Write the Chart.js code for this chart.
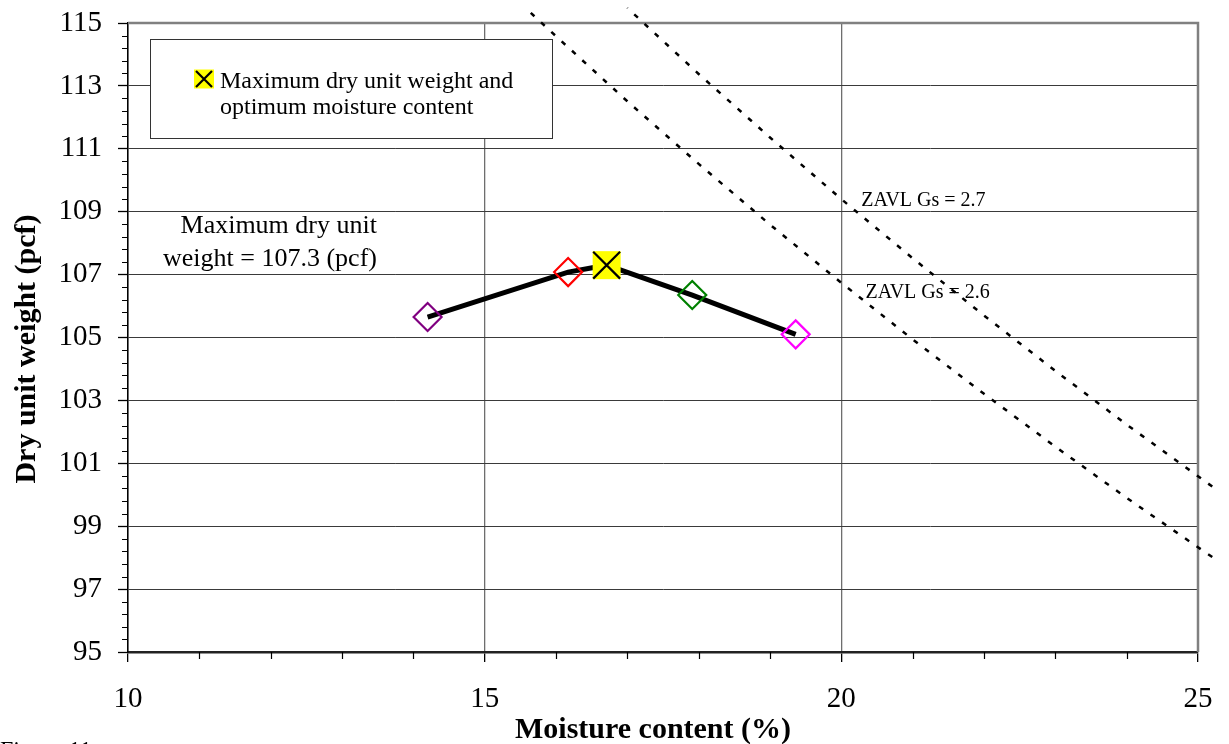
<!DOCTYPE html>
<html lang="en">
<head>
  <meta charset="UTF-8" />
  <title>Compaction Curve</title>
  <script src="https://cdn.jsdelivr.net/npm/chart.js"></script>
  <style>
    body { margin: 0; background: #fff; }
    .chart-container { width: 1229px; height: 744px; position: relative; }
  </style>
</head>
<body>
  <div class="chart-container">
    <canvas id="proctorChart"></canvas>
  </div>

  <script>
    // trial points: moisture content (%) and dry unit weight (pcf)
    const trialMoisture = [14.2, 16.17, 17.91, 19.36];
    const trialDryWeight = [105.65, 107.08, 106.35, 105.1];
    const trialColors = ['#800080', '#ff0000', '#008000', '#ff00ff'];

    // peak of the curve
    const maxMoisture = 16.71;
    const maxDryWeight = 107.3;

    // compaction curve (trials + peak)
    const curveMoisture = [14.2, 16.17, 16.71, 17.91, 19.36];
    const curveDryWeight = [105.65, 107.08, 107.3, 106.35, 105.1];

    // zero air voids lines
    const zav26Moisture = [15.6, 16, 17, 18, 19, 20, 21, 22, 23, 24, 25, 25.2];
    const zav26Weight = [115.42, 114.58, 112.51, 110.52, 108.59, 106.74, 104.94, 103.21, 101.53, 99.9, 98.33, 98.02];
    const zav27Moisture = [17, 18, 19, 20, 21, 22, 23, 24, 25, 25.2];
    const zav27Weight = [115.48, 113.38, 111.36, 109.4, 107.52, 105.7, 103.94, 102.23, 100.59, 100.26];

    // tick labels
    const xTicks = [10, 15, 20, 25];
    const yTicks = [95, 97, 99, 101, 103, 105, 107, 109, 111, 113, 115];
    const xMinorStep = 1;
    const yMinorStep = 0.4;

    const SERIF = "'Liberation Serif', 'Times New Roman', serif";

    const toPoints = (xs, ys) => xs.map((v, i) => ({ x: v, y: ys[i] }));

    const decorations = {
      id: 'decorations',
      beforeDatasetsDraw(chart) {
        const { ctx, chartArea: a } = chart;
        ctx.save();
        // grey frame on top and right
        ctx.strokeStyle = '#808080';
        ctx.lineWidth = 2.5;
        ctx.beginPath();
        ctx.moveTo(a.left, a.top);
        ctx.lineTo(a.right, a.top);
        ctx.lineTo(a.right, a.bottom);
        ctx.stroke();
        ctx.restore();
      },
      afterDraw(chart) {
        const { ctx, chartArea: a, scales: { x, y } } = chart;
        ctx.save();

        // minor ticks
        ctx.strokeStyle = '#000';
        ctx.lineWidth = 1.2;
        ctx.beginPath();
        const yMin = yTicks[0], yMax = yTicks[yTicks.length - 1];
        for (let i = 0; yMin + i * yMinorStep <= yMax + 1e-6; i++) {
          const v = yMin + i * yMinorStep;
          if (yTicks.some(t => Math.abs(t - v) < 1e-6)) continue;
          const py = Math.round(y.getPixelForValue(v)) + 0.5;
          ctx.moveTo(a.left - 6, py);
          ctx.lineTo(a.left, py);
        }
        const xMin = xTicks[0], xMax = xTicks[xTicks.length - 1];
        for (let i = 0; xMin + i * xMinorStep <= xMax + 1e-6; i++) {
          const v = xMin + i * xMinorStep;
          if (xTicks.some(t => Math.abs(t - v) < 1e-6)) continue;
          const px = Math.round(x.getPixelForValue(v)) + 0.5;
          ctx.moveTo(px, a.bottom);
          ctx.lineTo(px, a.bottom + 7);
        }
        ctx.stroke();

        // legend box
        const bx = a.left + 22, by = a.top + 16, bw = 402, bh = 99;
        ctx.fillStyle = '#fff';
        ctx.fillRect(bx, by, bw, bh);
        ctx.strokeStyle = '#333';
        ctx.lineWidth = 1;
        ctx.strokeRect(bx + 0.5, by + 0.5, bw, bh);
        const mx = bx + 54, my = by + 40;
        ctx.fillStyle = '#ffff00';
        ctx.fillRect(mx - 10, my - 9.5, 20, 19);
        ctx.strokeStyle = '#000';
        ctx.lineWidth = 2.2;
        ctx.beginPath();
        ctx.moveTo(mx - 8, my - 8); ctx.lineTo(mx + 8, my + 8);
        ctx.moveTo(mx + 8, my - 8); ctx.lineTo(mx - 8, my + 8);
        ctx.stroke();
        ctx.fillStyle = '#000';
        ctx.font = '24px ' + SERIF;
        ctx.textAlign = 'left';
        ctx.textBaseline = 'alphabetic';
        ctx.fillText('Maximum dry unit weight and', bx + 70, by + 49);
        ctx.fillText('optimum moisture content', bx + 70, by + 75);

        // annotation for the peak
        ctx.font = '26px ' + SERIF;
        ctx.textAlign = 'right';
        const ax = x.getPixelForValue(13.49), ay = y.getPixelForValue(108.32);
        ctx.fillText('Maximum dry unit', ax, ay);
        ctx.fillText('weight = 107.3 (pcf)', ax, ay + 33);

        // ZAV labels
        ctx.font = '20px ' + SERIF;
        ctx.textAlign = 'left';
        ctx.fillText('ZAVL Gs = 2.7', x.getPixelForValue(20.28), y.getPixelForValue(109.18));
        ctx.fillText('ZAVL Gs = 2.6', x.getPixelForValue(20.34), y.getPixelForValue(106.26));

        // axis titles
        ctx.font = 'bold 30px ' + SERIF;
        ctx.textAlign = 'center';
        ctx.fillText('Moisture content (%)', 653, 738);
        ctx.save();
        ctx.translate(35, 349);
        ctx.rotate(-Math.PI / 2);
        ctx.fillText('Dry unit weight (pcf)', 0, 0);
        ctx.restore();

        // clipped caption at the bottom
        ctx.font = '24px ' + SERIF;
        ctx.textAlign = 'left';
        ctx.fillText('Figure 11', 0, 757);

        ctx.restore();
      }
    };

    // ZAV lines run past the x max; feeding them high-to-low keeps chart.js
    // from trimming the points outside the axis range
    const zavLine = (xs, ys) => toPoints(xs, ys).reverse();

    const ctx = document.getElementById('proctorChart').getContext('2d');
    new Chart(ctx, {
      type: 'scatter',
      data: {
        datasets: [
          {
            label: 'ZAVL Gs = 2.6',
            data: zavLine(zav26Moisture, zav26Weight),
            showLine: true,
            borderColor: '#000',
            borderWidth: 2.5,
            borderDash: [5, 9],
            pointRadius: 0,
            clip: false,
            order: 6
          },
          {
            label: 'ZAVL Gs = 2.7',
            data: zavLine(zav27Moisture, zav27Weight),
            showLine: true,
            borderColor: '#000',
            borderWidth: 2.5,
            borderDash: [5, 9],
            pointRadius: 0,
            clip: false,
            order: 6
          },
          {
            label: 'Compaction curve',
            data: toPoints(curveMoisture, curveDryWeight),
            showLine: true,
            borderColor: '#000',
            borderWidth: 5,
            pointRadius: 0,
            order: 5
          },
          {
            label: 'Trials',
            data: toPoints(trialMoisture, trialDryWeight),
            pointStyle: 'rectRot',
            pointRadius: 14,
            pointBorderWidth: 2.2,
            pointBackgroundColor: 'rgba(0,0,0,0)',
            pointBorderColor: trialColors,
            order: 4
          },
          {
            label: 'Max fill',
            data: [{ x: maxMoisture, y: maxDryWeight }],
            pointStyle: 'rect',
            pointRadius: 19.8,
            pointBorderWidth: 0,
            pointBackgroundColor: '#ffff00',
            order: 3
          },
          {
            label: 'Maximum dry unit weight and optimum moisture content',
            data: [{ x: maxMoisture, y: maxDryWeight }],
            pointStyle: 'crossRot',
            pointRadius: 19,
            pointBorderWidth: 2.2,
            pointBorderColor: '#000',
            order: 2
          }
        ]
      },
      options: {
        responsive: true,
        maintainAspectRatio: false,
        animation: false,
        layout: { padding: { top: 23, right: 31, left: 0, bottom: 0 } },
        plugins: {
          legend: { display: false },
          tooltip: { enabled: false }
        },
        scales: {
          x: {
            type: 'linear',
            min: xTicks[0],
            max: xTicks[xTicks.length - 1],
            afterBuildTicks: s => { s.ticks = xTicks.map(v => ({ value: v })); },
            afterFit: s => { s.height = 92; },
            ticks: {
              font: { family: SERIF, size: 29, lineHeight: 1.6 },
              color: '#000',
              padding: 14,
              maxRotation: 0
            },
            grid: { color: '#6e6e6e', lineWidth: 1.3, tickLength: 10, tickColor: '#000', tickWidth: 1.3 },
            border: { color: '#222', width: 2.5 }
          },
          y: {
            type: 'linear',
            min: yTicks[0],
            max: yTicks[yTicks.length - 1],
            afterBuildTicks: s => { s.ticks = yTicks.map(v => ({ value: v })); },
            afterFit: s => { s.width = 128; },
            ticks: {
              font: { family: SERIF, size: 29, lineHeight: 0.45 },
              color: '#000',
              padding: 16
            },
            grid: { color: '#3a3a3a', lineWidth: 1, tickLength: 10, tickColor: '#000', tickWidth: 1.3 },
            border: { color: '#000', width: 1.5 }
          }
        }
      },
      plugins: [decorations]
    });
  </script>
</body>
</html>
